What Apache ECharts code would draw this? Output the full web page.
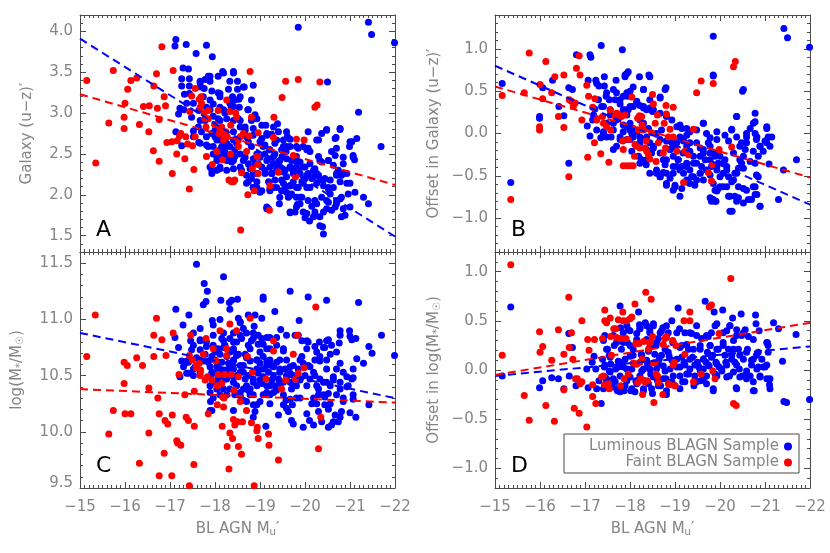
<!DOCTYPE html>
<html>
<head>
<meta charset="utf-8">
<script src="https://cdn.jsdelivr.net/npm/echarts@6/dist/echarts.min.js"></script>
<style>
  html, body { margin: 0; padding: 0; background: #fff; }
  #chart { width: 830px; height: 553px; }
</style>
</head>
<body>
<div id="chart"></div>
<script>
// x: BL AGN M_u', shared by all four panels
const xTicks = [-15, -16, -17, -18, -19, -20, -21, -22]
const yTicksA = [1.5, 2.0, 2.5, 3.0, 3.5, 4.0]
const yTicksB = [-1.0, -0.5, 0.0, 0.5, 1.0]
const yTicksC = [9.5, 10.0, 10.5, 11.0, 11.5]
const yTicksD = [-1.0, -0.5, 0.0, 0.5, 1.0]

// panel A: Galaxy (u-z)'
const faintA = [
  [-15.15,3.40],[-15.35,2.39],[-15.74,3.52],[-15.64,2.88],[-15.98,2.95],[-15.98,2.81],[-16.0,3.12],[-16.06,3.29],
  [-16.13,3.40],[-16.26,3.43],[-16.32,2.86],[-16.41,3.08],[-16.54,3.09],[-16.53,2.77],[-16.63,2.54],[-16.64,3.33],
  [-16.70,3.48],[-16.72,3.06],[-16.76,2.92],[-16.76,2.41],[-16.82,3.81],[-16.87,3.20],[-16.90,3.09],[-16.93,2.64],
  [-17.04,2.65],[-17.05,2.26],[-17.07,3.52],[-17.15,2.50],[-17.16,2.66],[-17.21,2.72],[-17.24,2.75],[-17.33,2.44],
  [-17.35,2.71],[-17.39,2.62],[-17.43,2.07],[-17.44,3.02],[-17.48,3.21],[-17.50,2.60],[-17.53,2.31],[-17.56,2.71],
  [-17.56,3.30],[-17.65,3.17],[-17.67,3.07],[-17.69,3.20],[-17.70,3.12],[-17.76,3.00],[-17.78,2.93],[-17.80,2.83],
  [-17.81,2.47],[-17.85,3.03],[-17.85,2.93],[-17.94,2.37],[-17.99,2.86],[-18.04,2.53],[-18.07,3.03],[-18.09,2.75],
  [-18.11,2.81],[-18.15,2.83],[-18.17,2.43],[-18.19,2.67],[-18.20,2.73],[-18.24,2.77],[-18.26,3.16],[-18.27,2.71],
  [-18.31,2.18],[-18.33,3.02],[-18.35,2.50],[-18.35,2.85],[-18.37,2.16],[-18.41,2.16],[-18.44,2.18],[-18.46,3.00],
  [-18.48,2.95],[-18.52,2.59],[-18.52,2.67],[-18.56,2.71],[-18.57,1.57],[-18.59,2.27],[-18.63,2.75],[-18.70,2.53],
  [-18.73,2.00],[-18.76,2.72],[-18.78,3.51],[-18.81,2.95],[-18.83,2.32],[-18.87,2.05],[-18.94,2.47],[-18.95,2.37],
  [-18.96,2.26],[-18.96,2.76],[-19.21,1.81],[-19.22,2.11],[-19.30,2.70],[-19.31,2.95],[-19.41,2.28],[-19.49,3.19],
  [-19.57,3.39],[-19.74,2.48],[-19.79,2.22],[-19.81,2.68],[-19.85,3.41],[-19.98,2.67],[-20.22,3.07],[-20.27,3.10],
  [-20.33,3.38]
]
const lumA = [
  [-17.13,3.90],[-17.11,3.82],[-17.36,3.84],[-17.81,3.83],[-17.58,3.73],[-17.94,3.69],[-17.29,3.55],[-17.41,3.54],
  [-17.26,3.42],[-17.43,3.42],[-17.26,3.33],[-17.43,3.33],[-17.32,3.23],[-17.43,3.24],[-17.67,3.39],[-17.68,3.32],
  [-17.76,3.30],[-17.78,3.41],[-17.85,3.45],[-17.89,3.39],[-18.07,3.45],[-18.17,3.51],[-18.41,3.51],[-18.33,3.39],
  [-18.50,3.39],[-18.65,3.32],[-18.50,3.29],[-18.30,3.29],[-18.07,3.25],[-17.93,3.27],[-18.11,3.20],[-18.39,3.20],
  [-18.53,3.17],[-18.81,3.16],[-17.22,3.06],[-17.19,2.99],[-17.31,3.04],[-17.64,3.03],[-17.96,3.11],[-18.11,3.07],
  [-18.36,3.07],[-18.54,3.07],[-18.73,3.04],[-18.89,2.98],[-18.93,2.93],[-17.96,2.96],[-18.07,2.93],[-18.26,2.93],
  [-18.41,2.91],[-18.56,2.91],[-17.13,2.77],[-17.26,2.60],[-17.64,2.64],[-17.52,2.78],[-17.70,2.77],[-17.81,2.71],
  [-17.93,2.75],[-17.85,2.59],[-17.96,2.50],[-17.89,2.34],[-17.93,2.26],[-18.04,2.30],[-18.11,2.34],[-18.15,2.47],
  [-18.26,2.42],[-18.37,2.40],[-18.41,2.32],[-18.56,2.83],[-18.67,2.79],[-18.74,2.65],[-18.81,2.59],[-18.85,2.81],
  [-18.48,2.63],[-18.67,2.46],[-18.56,2.34],[-18.74,2.38],[-18.85,2.26],[-18.74,2.16],[-18.85,2.09],[-18.93,2.16],
  [-19.00,2.03],[-19.07,2.59],[-19.11,2.50],[-19.04,2.69],[-19.15,2.73],[-19.13,2.85],[-19.26,2.74],[-19.33,2.63],
  [-19.39,2.87],[-19.21,2.55],[-19.30,2.47],[-19.41,2.40],[-19.52,2.59],[-19.59,2.77],[-19.61,2.71],[-19.67,2.68],
  [-19.58,2.53],[-19.49,2.47],[-19.22,2.34],[-19.33,2.18],[-19.11,2.26],[-19.19,2.16],[-19.22,2.05],[-19.30,2.09],
  [-19.48,2.05],[-19.59,2.03],[-19.67,2.34],[-19.74,2.30],[-19.70,2.42],[-19.81,2.34],[-19.89,2.26],[-19.81,2.47],
  [-19.96,2.59],[-20.07,2.57],[-20.11,2.53],[-19.74,2.16],[-19.85,2.09],[-19.63,1.97],[-19.70,2.01],[-19.81,1.97],
  [-19.93,1.97],[-19.89,1.89],[-19.83,1.88],[-19.43,1.89],[-19.67,1.78],[-19.78,1.79],[-19.96,1.79],[-20.00,1.72],
  [-20.10,1.68],[-20.22,1.79],[-20.15,1.86],[-20.33,1.73],[-20.39,1.61],[-20.41,1.52],[-20.22,1.93],[-20.37,1.97],
  [-20.52,1.91],[-20.48,1.83],[-20.59,1.81],[-20.67,1.85],[-20.70,1.93],[-20.78,1.95],[-20.85,1.83],[-20.89,1.75],
  [-20.81,1.73],[-21.30,1.97],[-21.41,1.89],[-20.11,2.38],[-20.22,2.32],[-20.26,2.26],[-20.19,2.22],[-20.07,2.26],
  [-20.00,2.20],[-20.33,2.18],[-20.44,2.20],[-20.41,2.11],[-20.52,2.09],[-20.56,2.18],[-20.30,2.47],[-20.33,2.42],
  [-20.30,2.67],[-20.37,2.75],[-20.48,2.80],[-20.50,3.38],[-20.78,2.80],[-20.69,2.70],[-20.59,2.53],[-20.67,2.48],
  [-20.52,2.42],[-20.74,2.30],[-20.81,2.24],[-20.78,2.16],[-20.85,2.38],[-20.93,2.26],[-20.99,2.59],[-21.04,2.65],
  [-21.15,2.69],[-21.07,2.48],[-21.10,2.43],[-21.00,2.14],[-21.11,2.03],[-21.19,3.01],[-21.69,2.59],[-21.41,4.11],
  [-21.48,3.96],[-19.85,4.05],[-21.99,3.86],[-18.85,2.44],[-18.96,2.38],[-19.04,2.34],[-19.11,2.30],[-19.44,2.34],
  [-19.52,2.28],[-19.59,2.22],[-19.48,2.18],[-19.67,2.11],[-19.56,2.11],[-19.93,2.16],[-20.04,2.09],[-20.00,2.34],
  [-19.89,2.40],[-19.81,2.59],[-19.67,2.59],[-19.26,2.26],[-19.37,2.32],[-19.19,2.44],[-19.30,2.38],[-18.93,2.50],
  [-18.85,2.73],[-18.70,2.71],[-18.41,2.67],[-18.33,2.59],[-18.26,2.63],[-18.15,2.59],[-18.04,2.67],[-18.11,2.55],
  [-18.22,2.53],[-18.33,2.42],[-18.44,2.47],[-18.04,2.47],[-18.00,2.79],[-18.11,2.73],[-18.41,2.77],[-18.33,3.12],
  [-18.44,3.16],[-18.22,3.00],[-18.11,2.91],[-17.89,3.16],[-17.81,3.07],[-17.74,3.20],[-17.52,3.12],[-17.37,3.12],
  [-17.48,2.95],[-17.67,2.91],[-18.85,3.34],[-18.93,2.09],[-19.15,1.83],[-19.19,1.83],[-20.63,2.36],[-20.70,2.24],
  [-19.04,2.85],[-19.15,2.75],[-19.30,2.83],[-19.41,2.77],[-19.37,2.67],[-19.52,2.67],[-19.59,2.59],[-19.48,2.55],
  [-19.33,2.50],[-19.22,2.55],[-19.11,2.61],[-19.00,2.65],[-19.15,2.42],[-19.30,2.38],[-19.44,2.42],[-19.59,2.44],
  [-19.67,2.34],[-19.56,2.30],[-19.41,2.28],[-19.26,2.26],[-19.74,2.26],[-19.85,2.30],[-19.81,2.40],[-19.96,2.34],
  [-20.04,2.24],[-20.15,2.20],[-20.19,2.30],[-20.30,2.24],[-20.41,2.18],[-20.26,2.14],[-20.11,2.09],[-19.96,2.14],
  [-19.81,2.09],[-19.67,2.11],[-19.52,2.14],[-19.37,2.09],[-19.44,1.97],[-19.67,1.99],[-19.89,1.97],[-20.07,1.93],
  [-20.26,1.89],[-20.48,1.93],[-20.56,2.01],[-20.70,1.89],[-20.63,2.09],[-20.52,2.07],[-19.00,2.46],[-18.89,2.38],
  [-18.78,2.32],[-18.93,2.26],[-18.81,2.20],[-18.70,2.24],[-18.63,2.42],[-18.56,2.50],[-18.44,2.55],[-18.41,2.42],
  [-18.26,2.48],[-18.19,2.57],[-18.11,2.67],[-18.00,2.71],[-17.96,2.59],[-18.04,2.42],[-17.93,2.30],[-18.11,2.32],
  [-18.26,2.30],[-18.59,2.30],[-18.70,2.14],[-18.85,2.09],[-19.04,2.05],[-19.22,2.07],[-19.15,1.85],[-17.89,3.04],
  [-17.78,2.91],[-17.63,2.83],[-17.52,2.71],[-17.67,2.63],[-17.81,2.61],[-18.19,3.04],[-18.33,3.16],[-18.56,3.20],
  [-18.74,3.04],[-18.81,2.91],[-18.67,2.83],[-18.52,2.93],[-18.41,3.08],[-18.11,3.24],[-18.19,3.49],[-17.89,3.45],
  [-17.67,3.37],[-18.41,3.49],[-18.63,3.32],[-20.48,2.79],[-20.67,2.69],[-20.78,2.81],[-21.00,2.65],[-21.07,2.46],
  [-20.85,2.46],[-20.70,2.57],[-20.26,2.67],[-20.07,2.77],[-19.85,2.57],[-20.04,2.55],[-20.37,2.40],[-20.52,2.42],
  [-20.70,2.26],[-20.85,2.26],[-20.93,2.14],[-20.81,1.97],[-20.96,2.01],[-21.00,1.85],[-20.41,1.79],[-20.04,1.77],
  [-19.81,1.85],[-19.67,1.79],[-20.19,1.73],[-20.33,1.62]
]

// panel B: offset in Galaxy (u-z)'
const faintB = [
  [-15.16,0.45],[-15.35,-0.78],[-15.76,0.95],[-15.65,0.48],[-16.0,0.58],[-16.06,0.41],[-15.99,0.08],[-15.99,0.04],
  [-16.13,0.85],[-16.26,0.48],[-16.33,0.67],[-16.41,0.20],[-16.53,0.69],[-16.53,0.07],[-16.64,-0.51],[-16.65,0.40],
  [-16.70,0.38],[-16.74,0.32],[-16.78,0.36],[-16.81,0.77],[-16.87,0.92],[-16.89,0.69],[-16.93,0.16],[-17.04,0.57],
  [-17.06,-0.28],[-17.08,0.44],[-17.17,0.31],[-17.21,-0.11],[-17.22,0.41],[-17.26,0.16],[-17.35,-0.24],[-17.39,0.20],
  [-17.41,0.12],[-17.48,0.08],[-17.53,-0.34],[-17.56,0.28],[-17.57,0.04],[-17.67,0.20],[-17.70,0.24],[-17.74,0.23],
  [-17.81,0.20],[-17.84,-0.09],[-17.85,-0.19],[-17.85,-0.38],[-17.89,0.22],[-17.93,-0.38],[-17.96,-0.07],[-18.0,-0.38],
  [-18.04,0.43],[-18.07,-0.38],[-18.10,-0.27],[-18.11,-0.13],[-18.15,-0.15],[-18.17,0.18],[-18.19,0.04],[-18.21,0.21],
  [-18.22,-0.17],[-18.26,0.20],[-18.27,0.10],[-18.30,0.04],[-18.33,-0.17],[-18.36,-0.09],[-18.37,-0.21],[-18.41,-0.25],
  [-18.44,-0.30],[-18.48,0.01],[-18.50,0.46],[-18.52,0.35],[-18.56,0.12],[-18.58,-0.33],[-18.61,0.22],[-18.63,-0.11],
  [-18.74,-0.23],[-18.76,0.12],[-18.79,-0.17],[-18.80,0.33],[-18.81,0.23],[-18.85,-0.04],[-18.89,0.05],[-18.96,0.31],
  [-18.96,-0.04],[-19.04,-0.21],[-19.19,-0.58],[-19.22,-0.21],[-19.30,-0.25],[-19.41,0.05],[-19.48,0.48],[-19.58,0.62],
  [-19.74,-0.46],[-19.81,-0.56],[-19.83,-0.37],[-19.85,0.59],[-19.98,-0.19],[-20.26,-0.16],[-20.30,0.79],[-20.34,0.85]
]
const lumB = [
  [-15.16,0.59],[-15.35,-0.58],[-15.99,0.20],[-15.99,0.18],[-16.06,0.54],[-16.28,0.63],[-16.42,0.32],[-16.53,0.21],
  [-16.64,0.54],[-16.72,0.52],[-16.64,-0.35],[-16.81,0.93],[-17.11,0.93],[-17.13,0.90],[-17.36,1.04],[-17.83,0.99],
  [-17.07,0.63],[-17.24,0.63],[-17.26,0.59],[-17.31,0.56],[-17.43,0.67],[-17.43,0.56],[-17.69,0.63],[-17.89,0.69],
  [-17.96,0.73],[-18.21,0.67],[-18.30,0.52],[-18.42,0.69],[-18.67,0.43],[-18.80,0.54],[-17.05,0.09],[-17.11,-0.03],
  [-17.17,0.16],[-17.22,0.29],[-17.30,0.40],[-17.35,-0.05],[-17.37,0.32],[-17.47,0.44],[-17.54,0.40],[-17.58,-0.04],
  [-17.63,0.12],[-17.67,0.40],[-17.70,0.48],[-17.78,0.35],[-17.85,0.44],[-17.94,0.44],[-18.0,0.50],[-17.96,0.28],
  [-18.07,0.32],[-18.15,0.38],[-18.22,0.33],[-18.30,0.30],[-18.37,0.28],[-18.44,0.30],[-18.50,0.26],[-17.63,-0.19],
  [-17.70,-0.15],[-17.78,-0.07],[-17.85,0.02],[-17.93,0.08],[-18.0,0.12],[-18.04,0.0],[-18.07,0.06],[-18.0,-0.07],
  [-18.04,-0.21],[-18.15,0.02],[-18.22,-0.04],[-18.30,-0.07],[-18.37,-0.04],[-18.41,0.06],[-18.30,0.12],[-18.22,0.16],
  [-18.44,-0.11],[-18.52,-0.17],[-18.48,-0.23],[-18.36,-0.37],[-18.26,-0.31],[-18.19,-0.27],[-18.59,-0.47],[-18.67,-0.51],
  [-18.74,-0.46],[-18.81,-0.59],[-18.78,-0.37],[-18.74,-0.31],[-18.59,0.0],[-18.67,-0.07],[-18.70,0.04],[-18.81,-0.09],
  [-18.93,-0.11],[-19.0,-0.17],[-18.89,-0.19],[-18.96,-0.27],[-19.07,-0.31],[-19.04,-0.39],[-18.96,-0.47],[-18.89,-0.53],
  [-19.0,-0.63],[-18.96,-0.67],[-19.15,-0.65],[-19.19,-0.47],[-19.15,-0.39],[-19.26,-0.35],[-19.33,-0.43],[-19.37,-0.51],
  [-19.48,-0.55],[-19.44,-0.61],[-19.30,-0.58],[-19.56,-0.47],[-19.63,-0.55],[-19.59,-0.39],[-19.48,-0.35],[-19.41,-0.27],
  [-19.33,-0.21],[-19.26,-0.15],[-19.19,-0.09],[-19.11,-0.04],[-19.15,0.06],[-19.04,0.08],[-19.33,0.02],[-19.26,-0.02],
  [-19.48,-0.11],[-19.56,-0.17],[-19.63,-0.23],[-19.67,-0.31],[-19.63,0.12],[-19.74,-0.11],[-19.78,-0.23],[-19.81,-0.39],
  [-19.78,-0.49],[-19.93,-0.43],[-19.96,-0.35],[-19.89,-0.27],[-20.0,-0.27],[-20.11,-0.31],[-20.15,-0.39],[-20.07,-0.47],
  [-20.19,-0.51],[-20.26,-0.57],[-20.33,-0.47],[-20.41,-0.41],[-20.48,-0.35],[-20.52,-0.27],[-20.56,-0.19],[-20.48,-0.11],
  [-20.59,-0.04],[-20.67,0.06],[-20.74,0.12],[-20.78,0.0],[-20.81,-0.07],[-20.89,-0.15],[-20.96,-0.21],[-20.85,-0.27],
  [-20.78,-0.35],[-20.81,-0.49],[-20.85,-0.51],[-20.74,-0.63],[-20.78,-0.72],[-20.70,-0.78],[-20.63,-0.78],[-20.89,-0.86],
  [-20.52,-0.82],[-20.41,-0.76],[-20.33,-0.74],[-20.19,-0.74],[-20.27,-0.92],[-19.93,-0.68],[-19.85,-0.78],[-19.81,-0.80],
  [-19.91,-0.80],[-20.0,-0.63],[-20.07,-0.63],[-20.41,-0.63],[-20.52,-0.65],[-21.0,-0.09],[-21.07,-0.04],[-21.15,-0.04],
  [-21.04,0.06],[-21.11,-0.15],[-21.09,-0.36],[-21.41,-0.43],[-21.30,-0.78],[-21.70,-0.31],[-21.42,1.24],[-21.50,1.13],
  [-19.85,1.15],[-19.85,0.68],[-20.37,0.20],[-20.50,0.50],[-20.78,0.24],[-20.26,0.05],[-21.99,1.02],[-17.93,0.22],
  [-17.74,0.18],[-17.89,0.28],[-17.56,0.22],[-17.48,-0.04],[-17.41,0.02],[-17.26,0.04],[-17.19,0.22],
  [-17.48,0.48],[-17.63,0.52],[-17.78,0.40],[-17.93,0.48],[-18.07,0.55],[-18.30,0.52],[-18.44,0.40],[-18.67,0.42],
  [-18.78,0.52],[-17.41,0.32],[-17.56,0.28],[-17.85,0.28],[-18.0,0.32],[-18.15,0.36],[-18.30,0.32],[-18.52,0.28],
  [-18.67,0.24],[-18.81,0.20],[-18.93,0.16],[-19.11,0.10],[-19.26,0.06],[-19.48,0.04],[-19.70,0.0],[-17.70,0.16],
  [-17.85,0.10],[-18.0,0.04],[-18.07,-0.04],[-17.93,-0.07],[-17.78,-0.04],[-17.63,0.04],[-17.48,0.12],[-17.41,0.0],
  [-18.22,-0.11],[-18.37,-0.19],[-18.52,-0.15],[-18.67,-0.23],[-18.81,-0.31],[-18.89,-0.19],[-19.04,-0.11],[-19.18,-0.07],
  [-19.33,-0.11],[-19.18,-0.23],[-19.07,-0.31],[-18.96,-0.39],[-19.11,-0.43],[-19.26,-0.39],[-19.41,-0.35],[-19.56,-0.27],
  [-19.63,-0.19],[-19.78,-0.15],[-19.93,-0.07],[-19.89,-0.23],[-19.78,-0.31],[-19.70,-0.43],[-19.56,-0.47],[-19.41,-0.51],
  [-19.26,-0.55],[-18.67,-0.51],[-18.81,-0.47],[-18.59,-0.43],[-19.0,-0.61],[-19.93,-0.39],[-20.07,-0.35],[-20.15,-0.43],
  [-20.0,-0.51],[-19.85,-0.59],[-19.96,-0.65],[-20.15,-0.63],[-20.30,-0.55],[-20.37,-0.47],[-20.52,-0.41],[-20.67,-0.33],
  [-20.44,-0.31],[-20.30,-0.23],[-20.44,-0.15],[-20.59,-0.11],[-20.74,-0.21],[-20.89,-0.15],[-21.04,-0.11],[-20.82,-0.04],
  [-20.59,0.0],[-20.37,-0.04],[-20.19,-0.09],[-20.11,-0.02],[-19.93,0.02],[-19.78,-0.05],[-20.26,0.04],[-20.37,0.20],
  [-20.78,0.14],[-21.04,0.08],[-20.52,0.52],[-19.85,0.69],[-18.44,0.67],[-17.93,0.71],[-17.89,0.67],[-19.63,0.12],
  [-20.22,-0.74],[-20.37,-0.80],[-19.78,-0.76],[-19.89,-0.80],[-20.22,-0.92],[-20.82,-0.72],[-20.89,-0.86],[-20.59,-0.67],
  [-20.78,-0.63],[-18.22,-0.35],[-18.37,-0.31],[-18.44,-0.47],[-18.81,-0.61],[-19.33,-0.59],[-19.11,-0.74],[-19.89,-0.67]
]

// panel C: log(M*/Msun)
const faintC = [
  [-15.15,10.67],[-15.34,11.04],[-15.64,9.98],[-15.74,10.19],[-15.98,10.62],[-15.98,10.43],[-16.0,10.16],[-16.05,10.59],
  [-16.13,10.16],[-16.26,10.66],[-16.32,9.72],[-16.39,10.59],[-16.53,10.39],[-16.53,9.99],[-16.64,10.67],[-16.64,10.86],
  [-16.70,11.01],[-16.73,10.30],[-16.76,10.16],[-16.76,9.61],[-16.82,10.82],[-16.87,9.81],[-16.89,10.10],[-16.91,10.68],
  [-16.95,10.07],[-17.04,9.61],[-17.05,10.15],[-17.07,10.88],[-17.15,9.92],[-17.17,9.90],[-17.20,10.51],[-17.24,9.88],
  [-17.33,10.33],[-17.36,10.13],[-17.41,10.10],[-17.43,9.52],[-17.43,10.68],[-17.46,10.86],[-17.50,10.64],[-17.54,10.36],
  [-17.54,10.05],[-17.53,9.71],[-17.58,10.57],[-17.59,10.59],[-17.65,10.61],[-17.67,10.50],[-17.68,10.55],[-17.74,10.69],
  [-17.78,10.46],[-17.80,10.83],[-17.83,10.49],[-17.85,10.16],[-17.93,10.46],[-17.96,10.74],[-18.02,10.63],[-18.04,10.41],
  [-18.05,10.24],[-18.07,10.51],[-18.11,10.90],[-18.15,10.43],[-18.16,10.05],[-18.17,10.31],[-18.19,10.22],[-18.20,10.30],
  [-18.22,10.51],[-18.26,10.68],[-18.26,10.74],[-18.27,9.87],[-18.31,9.67],[-18.33,10.96],[-18.33,9.99],[-18.36,10.51],
  [-18.39,9.94],[-18.41,10.11],[-18.42,10.37],[-18.44,10.06],[-18.48,10.90],[-18.50,10.09],[-18.52,10.49],[-18.52,9.87],
  [-18.56,10.27],[-18.59,9.80],[-18.61,10.09],[-18.70,10.19],[-18.72,10.67],[-18.78,11.01],[-18.81,10.08],[-18.83,10.53],
  [-18.87,9.52],[-18.93,10.01],[-18.94,10.04],[-18.96,9.94],[-19.13,10.47],[-19.19,9.98],[-19.20,9.88],[-19.30,10.81],
  [-19.30,10.72],[-19.41,9.75],[-19.48,10.38],[-19.57,10.46],[-19.74,10.69],[-19.79,10.47],[-19.83,10.86],[-19.85,10.52],
  [-19.98,10.57],[-20.24,11.11],[-20.30,9.85],[-20.35,10.13]
]
const lumC = [
  [-17.59,11.49],[-18.19,11.38],[-17.76,11.32],[-17.83,11.25],[-17.74,11.13],[-17.80,11.16],[-18.13,11.17],[-18.32,11.15],
  [-18.37,11.17],[-18.50,11.18],[-18.33,11.09],[-17.94,10.99],[-17.96,10.95],[-18.11,11.0],[-17.13,11.09],[-17.29,10.95],
  [-17.42,11.04],[-17.67,10.92],[-17.52,10.88],[-17.46,10.81],[-17.67,10.82],[-17.11,10.84],[-17.19,10.75],[-17.26,10.63],
  [-17.33,10.61],[-17.22,10.49],[-17.37,10.52],[-17.41,10.62],[-17.52,10.56],[-17.67,10.73],[-17.81,10.76],[-17.85,10.62],
  [-17.89,10.58],[-17.93,10.67],[-18.0,10.71],[-18.07,10.72],[-18.07,10.62],[-18.11,10.56],[-18.04,10.53],[-17.96,10.52],
  [-17.89,10.49],[-17.96,10.44],[-17.89,10.35],[-17.90,10.27],[-17.89,10.19],[-18.11,10.33],[-18.19,10.38],[-18.26,10.47],
  [-18.33,10.59],[-18.41,10.64],[-18.41,10.74],[-18.48,10.80],[-18.56,10.86],[-18.52,11.01],[-18.56,10.98],[-18.63,10.92],
  [-18.74,11.04],[-18.89,11.04],[-18.87,10.94],[-19.04,11.01],[-19.07,11.20],[-19.07,11.18],[-19.33,11.07],[-19.46,10.91],
  [-19.67,11.25],[-19.87,10.99],[-20.07,11.20],[-20.48,11.17],[-21.19,11.15],[-21.70,10.86],[-21.42,10.76],[-21.49,10.70],
  [-21.30,10.61],[-21.15,10.65],[-21.04,10.82],[-21.13,10.83],[-20.99,10.90],[-21.0,10.85],[-20.78,10.90],[-20.76,10.79],
  [-20.52,10.82],[-20.59,10.77],[-20.44,10.75],[-20.32,10.80],[-20.22,10.76],[-20.07,10.80],[-19.93,10.81],[-19.78,10.86],
  [-19.59,10.86],[-19.52,10.74],[-19.37,10.84],[-19.22,10.84],[-19.15,10.74],[-19.04,10.83],[-18.96,10.78],[-18.85,10.83],
  [-18.74,10.77],[-18.67,10.69],[-18.78,10.63],[-18.93,10.64],[-19.07,10.67],[-19.22,10.64],[-19.30,10.58],[-19.44,10.64],
  [-19.59,10.64],[-19.67,10.58],[-19.74,10.59],[-19.89,10.64],[-19.96,10.61],[-20.11,10.58],[-20.22,10.64],[-20.33,10.67],
  [-20.48,10.64],[-20.56,10.69],[-20.70,10.56],[-20.85,10.53],[-21.04,10.47],[-20.96,10.41],[-21.07,10.33],[-20.78,10.44],
  [-20.63,10.46],[-20.56,10.41],[-20.52,10.34],[-20.41,10.44],[-20.30,10.38],[-20.22,10.50],[-20.11,10.47],[-20.04,10.41],
  [-19.89,10.47],[-19.81,10.41],[-19.70,10.38],[-19.67,10.44],[-19.59,10.50],[-19.52,10.44],[-19.41,10.47],[-19.33,10.41],
  [-19.26,10.46],[-19.15,10.41],[-19.07,10.49],[-19.0,10.46],[-18.93,10.41],[-18.85,10.44],[-18.70,10.41],[-18.74,10.50],
  [-18.63,10.53],[-18.56,10.59],[-18.48,10.50],[-18.41,10.44],[-18.33,10.38],[-18.44,10.33],[-18.41,10.19],[-18.56,10.35],
  [-18.78,10.33],[-18.85,10.24],[-18.89,10.18],[-18.85,10.13],[-19.0,10.27],[-19.13,10.05],[-19.22,10.33],[-19.30,10.35],
  [-19.41,10.15],[-19.52,10.33],[-19.59,10.21],[-19.63,10.18],[-19.58,10.28],[-19.70,10.10],[-19.74,10.07],[-19.72,10.24],
  [-19.81,10.30],[-19.96,10.04],[-20.04,10.16],[-20.10,10.10],[-20.19,10.06],[-20.15,10.25],[-20.30,10.18],[-20.37,10.09],
  [-20.44,10.24],[-20.52,10.20],[-20.52,10.04],[-20.59,10.06],[-20.63,10.09],[-20.67,10.15],[-20.74,10.09],[-20.78,10.13],
  [-20.81,10.18],[-20.85,10.27],[-21.0,10.17],[-21.13,10.13],[-21.42,10.24],[-21.07,10.48],[-20.30,10.33],[-20.44,10.31],
  [-21.99,10.68],[-18.22,10.77],[-18.33,10.71],[-18.48,10.68],[-18.33,10.83],[-18.15,10.83],[-17.48,10.73],[-17.59,10.66],
  [-17.74,10.63],[-17.52,10.50],[-18.07,10.46],[-18.19,10.50],[-18.26,10.55],[-18.41,10.56],[-18.67,10.47],[-18.93,10.56],
  [-19.15,10.59],[-19.44,10.56],[-19.74,10.50],[-18.85,10.33],[-19.07,10.33],[-18.63,10.28],[-18.74,10.37],
  [-17.96,10.77],[-18.07,10.74],[-18.19,10.75],[-18.11,10.69],[-18.26,10.67],[-18.0,10.64],[-18.15,10.62],[-18.30,10.61],
  [-18.41,10.63],[-18.04,10.58],[-18.19,10.55],[-18.33,10.53],[-17.93,10.53],[-18.07,10.49],[-18.22,10.47],[-18.41,10.49],
  [-18.56,10.53],[-18.63,10.59],[-18.52,10.69],[-18.41,10.72],[-18.70,10.66],[-17.85,10.63],[-17.78,10.69],[-17.67,10.63],
  [-17.56,10.58],[-17.37,10.63],[-17.30,10.58],[-17.41,10.52],[-17.67,10.53],[-17.89,10.41],[-18.04,10.38],[-18.48,10.41],
  [-18.63,10.38],[-18.78,10.38],[-18.85,10.47],[-18.96,10.52],[-19.07,10.56],[-19.0,10.61],[-18.93,10.64],[-19.15,10.63],
  [-19.26,10.59],[-19.37,10.62],[-19.19,10.53],[-19.30,10.49],[-19.44,10.53],[-19.56,10.56],[-19.67,10.52],[-19.59,10.47],
  [-19.44,10.43],[-19.22,10.41],[-19.04,10.43],[-19.15,10.35],[-19.37,10.37],[-19.74,10.41],[-19.89,10.46],[-20.0,10.50],
  [-19.85,10.56],[-20.07,10.59],[-20.19,10.53],[-20.33,10.47],[-20.26,10.41],[-20.48,10.44],[-20.63,10.49],[-20.48,10.56],
  [-20.33,10.63],[-20.26,10.71],[-20.41,10.75],[-20.04,10.74],[-19.93,10.67],[-19.52,10.72],[-19.37,10.77],[-19.22,10.74],
  [-19.07,10.78],[-19.0,10.71],[-18.78,10.74],[-18.81,10.81],[-18.96,10.86],[-19.15,10.84],[-18.59,10.83],[-18.41,10.80],
  [-18.19,10.81],[-17.96,10.86],[-17.81,10.80],[-17.67,10.81],[-17.52,10.77],[-18.19,10.88],[-18.41,10.88],[-18.56,10.97],
  [-18.70,10.88],[-18.85,10.88],[-20.78,10.38],[-20.93,10.40],[-20.70,10.33],[-20.41,10.33],[-20.19,10.30],[-19.89,10.30],
  [-19.67,10.29],[-18.70,10.27],[-18.56,10.32],[-18.26,10.33],[-17.96,10.30],[-17.93,10.19],[-18.93,10.24],[-19.22,10.25],
  [-19.52,10.24],[-20.26,10.25],[-20.56,10.25],[-20.85,10.30],[-21.07,10.29],[-20.93,10.49],[-21.07,10.56],[-20.78,10.61],
  [-20.70,10.71],[-20.78,10.86],[-20.48,10.81],[-20.04,10.81],[-19.85,10.86]
]

// panel D: offset in log(M*/Msun)
const faintD = [
  [-15.16,0.15],[-15.35,1.07],[-15.65,-0.26],[-15.76,-0.51],[-15.99,0.39],[-16.0,0.18],[-16.06,0.24],[-16.13,-0.36],
  [-16.26,0.10],[-16.32,-0.52],[-16.41,0.41],[-16.53,0.16],[-16.53,-0.20],[-16.64,0.74],[-16.65,0.23],[-16.70,0.38],
  [-16.73,0.11],[-16.76,-0.39],[-16.79,-0.09],[-16.83,-0.09],[-16.87,-0.44],[-16.89,-0.14],[-16.93,-0.12],[-16.93,0.50],
  [-17.04,-0.58],[-17.06,0.31],[-17.09,0.20],[-17.17,-0.27],[-17.17,-0.15],[-17.21,0.31],[-17.24,-0.34],[-17.37,-0.07],
  [-17.39,0.32],[-17.41,-0.06],[-17.43,-0.15],[-17.44,0.61],[-17.44,0.50],[-17.48,0.48],[-17.52,-0.14],[-17.54,-0.19],
  [-17.56,0.53],[-17.57,0.34],[-17.59,0.15],[-17.64,0.42],[-17.68,0.42],[-17.70,0.33],[-17.74,0.51],[-17.76,0.32],
  [-17.79,-0.16],[-17.81,0.32],[-17.84,0.59],[-17.85,0.50],[-17.87,-0.09],[-17.91,0.32],[-17.93,0.50],[-17.96,-0.04],
  [-18.0,0.52],[-18.04,0.54],[-18.07,0.07],[-18.11,0.67],[-18.13,0.27],[-18.15,0.06],[-18.17,-0.13],[-18.20,0.27],
  [-18.22,0.08],[-18.24,-0.09],[-18.27,0.11],[-18.28,-0.25],[-18.30,0.29],[-18.33,-0.12],[-18.35,0.79],[-18.39,-0.11],
  [-18.41,0.21],[-18.43,0.28],[-18.46,0.29],[-18.47,0.72],[-18.50,0.34],[-18.52,0.07],[-18.53,-0.33],[-18.56,0.08],
  [-18.58,-0.04],[-18.61,-0.06],[-18.63,-0.13],[-18.73,-0.25],[-18.74,0.26],[-18.78,0.32],[-18.81,0.34],[-18.85,-0.14],
  [-18.89,-0.15],[-18.95,0.30],[-18.96,0.05],[-18.98,0.08],[-19.0,-0.16],[-19.02,0.25],[-19.20,0.50],[-19.22,0.16],
  [-19.33,0.59],[-19.33,0.50],[-19.41,-0.12],[-19.58,-0.04],[-19.76,0.64],[-19.81,0.66],[-19.84,-0.01],[-19.89,-0.09],
  [-19.98,0.37],[-20.24,0.93],[-20.30,-0.34],[-20.36,-0.36]
]
const lumD = [
  [-15.16,-0.06],[-15.35,0.64],[-15.99,-0.18],[-16.06,-0.11],[-16.26,-0.08],[-16.41,-0.09],[-16.53,-0.19],[-16.64,0.37],
  [-16.65,-0.06],[-16.72,0.23],[-16.80,-0.16],[-17.04,0.01],[-17.07,-0.18],[-17.16,0.08],[-17.20,0.14],[-17.24,0.01],
  [-17.26,-0.19],[-17.31,-0.11],[-17.36,-0.34],[-17.39,0.11],[-17.43,0.03],[-17.44,-0.07],[-17.48,-0.12],[-17.50,0.21],
  [-17.54,0.15],[-17.54,-0.01],[-17.57,0.06],[-17.59,-0.16],[-17.63,-0.09],[-17.65,0.25],[-17.68,0.01],[-17.70,-0.19],
  [-17.72,-0.21],[-17.74,0.09],[-17.78,0.65],[-17.79,0.43],[-17.81,0.21],[-17.85,0.03],[-17.87,-0.21],[-17.89,0.11],
  [-17.93,-0.11],[-17.94,0.28],[-17.96,0.41],[-18.0,0.14],[-18.02,-0.21],[-18.04,0.01],[-18.07,0.21],[-18.11,-0.22],
  [-18.13,-0.11],[-18.15,0.37],[-18.19,0.59],[-18.21,0.46],[-18.22,0.42],[-18.25,0.16],[-18.26,-0.01],[-18.30,-0.19],
  [-18.32,-0.11],[-18.34,0.48],[-18.37,0.45],[-18.39,0.06],[-18.41,0.19],[-18.44,0.38],[-18.46,-0.04],[-18.48,-0.19],
  [-18.50,-0.24],[-18.52,0.45],[-18.55,0.16],[-18.58,0.25],[-18.59,0.01],[-18.61,-0.11],[-18.63,0.32],[-18.65,0.11],
  [-18.68,-0.16],[-18.70,0.40],[-18.73,0.43],[-18.74,0.04],[-18.78,0.21],[-18.80,-0.09],[-18.81,-0.25],[-18.85,0.38],
  [-18.87,0.14],[-18.89,0.01],[-18.93,0.50],[-18.95,0.28],[-18.96,-0.06],[-19.0,-0.16],[-19.04,0.11],[-19.07,0.63],
  [-19.10,0.42],[-19.11,0.03],[-19.15,0.25],[-19.17,-0.12],[-19.20,0.08],[-19.22,0.38],[-19.26,-0.04],[-19.30,0.21],
  [-19.33,0.01],[-19.37,0.37],[-19.39,0.13],[-19.42,-0.16],[-19.44,-0.06],[-19.48,0.35],[-19.50,0.08],[-19.53,0.03],
  [-19.56,0.21],[-19.57,-0.11],[-19.59,0.32],[-19.63,0.01],[-19.67,0.70],[-19.69,0.08],[-19.70,-0.06],[-19.72,0.18],
  [-19.74,0.34],[-19.76,0.04],[-19.78,0.25],[-19.81,0.38],[-19.84,0.15],[-19.85,-0.21],[-19.87,0.59],[-19.89,0.45],
  [-19.91,0.08],[-19.93,-0.06],[-19.96,0.21],[-19.98,0.03],[-20.04,0.01],[-20.06,0.61],[-20.07,0.28],[-20.11,0.15],
  [-20.13,0.08],[-20.15,0.40],[-20.19,0.21],[-20.21,-0.06],[-20.22,0.45],[-20.26,0.15],[-20.28,0.53],[-20.30,0.30],
  [-20.33,0.08],[-20.36,-0.18],[-20.37,0.41],[-20.41,0.21],[-20.43,0.01],[-20.47,0.57],[-20.48,0.35],[-20.50,-0.06],
  [-20.52,0.11],[-20.56,0.41],[-20.58,-0.06],[-20.61,0.21],[-20.63,0.34],[-20.67,-0.06],[-20.70,0.10],[-20.74,-0.12],
  [-20.76,-0.21],[-20.79,0.56],[-20.80,0.47],[-20.81,0.15],[-20.85,0.03],[-20.87,0.40],[-20.89,-0.06],[-20.93,0.11],
  [-21.0,0.03],[-21.04,0.05],[-21.05,0.28],[-21.07,0.25],[-21.10,-0.15],[-21.11,-0.09],[-21.19,0.48],[-21.30,0.42],
  [-21.39,0.09],[-21.42,-0.32],[-21.48,-0.33],[-21.69,0.36],[-21.99,-0.30],
  [-17.48,0.21],[-17.56,0.13],[-17.44,0.05],[-17.56,-0.02],[-17.48,-0.09],[-17.67,-0.12],[-17.78,-0.06],[-17.74,0.03],
  [-17.85,0.08],[-17.93,0.01],[-18.0,-0.07],[-17.89,-0.16],[-18.04,-0.19],[-18.15,-0.14],[-18.22,-0.06],[-18.30,0.01],
  [-18.15,0.06],[-18.07,0.15],[-18.26,0.15],[-18.37,0.10],[-18.44,0.01],[-18.52,-0.07],[-18.41,-0.14],[-18.63,-0.16],
  [-18.74,-0.09],[-18.78,-0.01],[-18.63,0.06],[-18.70,0.15],[-18.85,0.18],[-18.93,0.10],[-19.04,0.03],[-19.11,-0.06],
  [-18.93,-0.12],[-19.22,-0.12],[-19.30,-0.04],[-19.22,0.05],[-19.15,0.13],[-19.33,0.11],[-19.44,0.05],[-19.56,-0.01],
  [-19.63,-0.09],[-19.48,-0.12],[-19.70,-0.14],[-19.74,0.05],[-19.63,0.11],[-19.81,0.13],[-19.93,0.06],[-20.04,-0.01],
  [-19.89,-0.04],[-20.15,0.05],[-20.26,0.11],[-20.37,0.05],[-20.30,-0.02],[-20.15,-0.07],[-20.44,-0.07],[-20.59,-0.01],
  [-20.70,0.05],[-20.82,0.01],[-20.96,0.03],[-20.89,-0.07],[-21.04,-0.09],[-21.11,-0.19],[-20.59,-0.09],[-20.74,0.11],
  [-20.59,0.18],[-20.44,0.15],[-20.30,0.21],[-20.07,0.25],[-19.93,0.21],[-19.78,0.25],[-19.56,0.25],[-19.41,0.21],
  [-19.26,0.26],[-19.11,0.23],[-18.96,0.28],[-18.81,0.33],[-18.67,0.38],[-18.59,0.28],[-18.44,0.23],[-18.37,0.31],
  [-18.44,0.40],[-18.22,0.42],[-18.15,0.31],[-18.0,0.25],[-17.85,0.28],[-17.70,0.28],[-17.63,0.35],[-17.44,0.35],
  [-17.41,0.30],[-18.0,0.40],[-17.85,0.38],[-17.93,0.45],[-18.52,0.47],[-18.81,0.45],[-19.04,0.38],[-19.33,0.38],
  [-19.48,0.45],[-19.70,0.35],[-19.93,0.47],[-20.07,0.38],[-20.22,0.45],[-20.37,0.35],[-20.52,0.38],[-20.74,0.31],
  [-21.04,0.28],[-20.85,0.18],[-21.07,0.18],[-17.41,-0.19],[-17.59,-0.17],[-17.78,-0.22],[-18.30,-0.21],[-18.81,-0.21],
  [-19.11,-0.19],[-19.85,-0.19],[-20.74,-0.21],[-20.37,-0.19]
]

// fitted relations, endpoints at M_u' = -15 and -22
const fitLumA = [[-15, 3.91], [-22, 1.49]]
const fitFaintA = [[-15, 3.23], [-22, 2.12]]
const fitLumB = [[-15, 0.80], [-22, -0.84]]
const fitFaintB = [[-15, 0.555], [-22, -0.52]]
const fitLumC = [[-15, 10.88], [-22, 10.30]]
const fitFaintC = [[-15, 10.38], [-22, 10.26]]
const fitLumD = [[-15, -0.06], [-22, 0.24]]
const fitFaintD = [[-15, -0.05], [-22, 0.48]]

const LUM = "Luminous BLAGN Sample"
const FAINT = "Faint BLAGN Sample"
const font = "DejaVu Sans"
const frameColor = "#4a4a4a"
const textColor = "#858585"

const range = (a, b, step) => {
  const out = []
  const n = Math.round((b - a) / step)
  for (let i = 0; i <= n; i++) out.push(+(a + i * step).toFixed(4))
  return out
}
const fmt1 = (v) => Number(v).toFixed(1).replace("-", "\u2212")
const fmt0 = (v) => String(v).replace("-", "\u2212")

const subRich = {
  s: { fontSize: 10, fontFamily: font, color: textColor, verticalAlign: "bottom", lineHeight: 12 },
}
// the label sitting on the lower frame edge is lifted, as in the original
const edgeRich = {
  lo: { fontSize: 15, fontFamily: font, color: textColor, padding: [0, 0, 10, 0] },
}

const panels = [
  { lum: lumA, faint: faintA, fitLum: fitLumA, fitFaint: fitFaintA, yMin: 1.3, yMax: 4.2, yTicks: yTicksA,
    yName: "Galaxy (u\u2212z)\u2032", yGap: 45, grid: { left: 80, top: 15, width: 315, height: 237 }, letter: "A", xLabels: false },
  { lum: lumB, faint: faintB, fitLum: fitLumB, fitFaint: fitFaintB, yMin: -1.4, yMax: 1.4, yTicks: yTicksB,
    yName: "Offset in Galaxy (u\u2212z)\u2032", yGap: 53, grid: { left: 495, top: 15, width: 315, height: 237 }, letter: "B", xLabels: false },
  { lum: lumC, faint: faintC, fitLum: fitLumC, fitFaint: fitFaintC, yMin: 9.5, yMax: 11.6, yTicks: yTicksC,
    yName: "log(M{s|*}/M{s|\u2609})", yGap: 55, grid: { left: 80, top: 252, width: 315, height: 236 }, letter: "C", xLabels: true },
  { lum: lumD, faint: faintD, fitLum: fitLumD, fitFaint: fitFaintD, yMin: -1.2, yMax: 1.2, yTicks: yTicksD,
    yName: "Offset in log(M{s|*}/M{s|\u2609})", yGap: 53, grid: { left: 495, top: 252, width: 315, height: 236 }, letter: "D", xLabels: true },
]

const xMinor = range(-22, -15, 0.1)
const line = { show: true, onZero: false, lineStyle: { color: frameColor, width: 1 } }
const noLine = { show: false, onZero: false }
const tick = (values, length) => ({ show: true, inside: true, length, customValues: values, lineStyle: { color: frameColor, width: 1 } })

const xAxis = []
const yAxis = []
const series = []
const graphic = []

panels.forEach((p, g) => {
  const xBase = { type: "value", gridIndex: g, min: -22, max: -15, inverse: true, splitLine: { show: false }, axisLabel: { show: false } }
  const yBase = { type: "value", gridIndex: g, min: p.yMin, max: p.yMax, splitLine: { show: false }, axisLabel: { show: false } }
  const yMinor = range(Math.ceil(p.yMin * 10 - 1e-6) / 10, Math.floor(p.yMax * 10 + 1e-6) / 10, 0.1)

  xAxis.push(
    {
      ...xBase, position: "bottom", axisLine: line, axisTick: tick(xTicks, 6),
      axisLabel: p.xLabels
        ? { show: true, customValues: xTicks, formatter: fmt0, margin: 12, color: textColor, fontSize: 15, fontFamily: font }
        : { show: false },
      name: p.xLabels ? "BL AGN M{s|u}\u2032" : "",
      nameLocation: "middle", nameGap: 34,
      nameTextStyle: { color: textColor, fontSize: 15, fontFamily: font, rich: subRich },
    },
    { ...xBase, position: "bottom", axisLine: noLine, axisTick: tick(xMinor, 3) },
    { ...xBase, position: "top", axisLine: line, axisTick: tick(xTicks, 6) },
    { ...xBase, position: "top", axisLine: noLine, axisTick: tick(xMinor, 3) },
  )
  yAxis.push(
    {
      ...yBase, position: "left", axisLine: line, axisTick: tick(p.yTicks, 6),
      axisLabel: {
        show: true, customValues: p.yTicks, margin: 7, color: textColor, fontSize: 15, fontFamily: font, rich: edgeRich,
        formatter: (v) => (Math.abs(v - p.yMin) < 1e-6 ? `{lo|${fmt1(v)}}` : fmt1(v)),
      },
      name: p.yName, nameLocation: "middle", nameGap: p.yGap,
      nameTextStyle: { color: textColor, fontSize: 15, fontFamily: font, rich: subRich },
    },
    { ...yBase, position: "left", axisLine: noLine, axisTick: tick(yMinor, 3) },
    { ...yBase, position: "right", axisLine: line, axisTick: tick(p.yTicks, 6) },
    { ...yBase, position: "right", axisLine: noLine, axisTick: tick(yMinor, 3) },
  )

  series.push(
    { name: LUM, type: "scatter", xAxisIndex: 4 * g, yAxisIndex: 4 * g, data: p.lum, symbol: "circle", symbolSize: 7, itemStyle: { color: "#0000ff", opacity: 1 } },
    { name: FAINT, type: "scatter", xAxisIndex: 4 * g, yAxisIndex: 4 * g, data: p.faint, symbol: "circle", symbolSize: 7, itemStyle: { color: "#ff0000", opacity: 1 } },
  )

  graphic.push({
    type: "text", left: p.grid.left + 16, top: p.grid.top + p.grid.height - 33,
    style: { text: p.letter, font: `22px "${font}"`, fill: "#000" },
  })
})

// fits go on top of the points
panels.forEach((p, g) => {
  const fit = (name, data, color) => ({
    name, type: "line", xAxisIndex: 4 * g, yAxisIndex: 4 * g, data, symbol: "none", silent: true,
    lineStyle: { color, width: 2, type: [8, 5] }, z: 3,
  })
  series.push(fit("fit lum", p.fitLum, "#0000ff"), fit("fit faint", p.fitFaint, "#ff0000"))
})

// legend frame in panel D
graphic.push({
  type: "rect", shape: { x: 564, y: 434, width: 235, height: 39 },
  style: { fill: "none", stroke: frameColor, lineWidth: 1 },
})

const legendBase = {
  orient: "vertical", right: 38, align: "right", icon: "circle", itemWidth: 8, itemHeight: 8, padding: 0,
  selectedMode: false, textStyle: { color: textColor, fontSize: 15, fontFamily: font },
}

const chart = echarts.init(document.getElementById("chart"), null, { renderer: "canvas" })
chart.setOption({
  animation: false,
  backgroundColor: "#fff",
  grid: panels.map((p) => p.grid),
  xAxis,
  yAxis,
  legend: [
    { ...legendBase, top: 439, data: [LUM], itemStyle: { opacity: 1 } },
    { ...legendBase, top: 455, data: [FAINT], itemStyle: { opacity: 1 } },
  ],
  graphic,
  series,
})
</script>
</body>
</html>
